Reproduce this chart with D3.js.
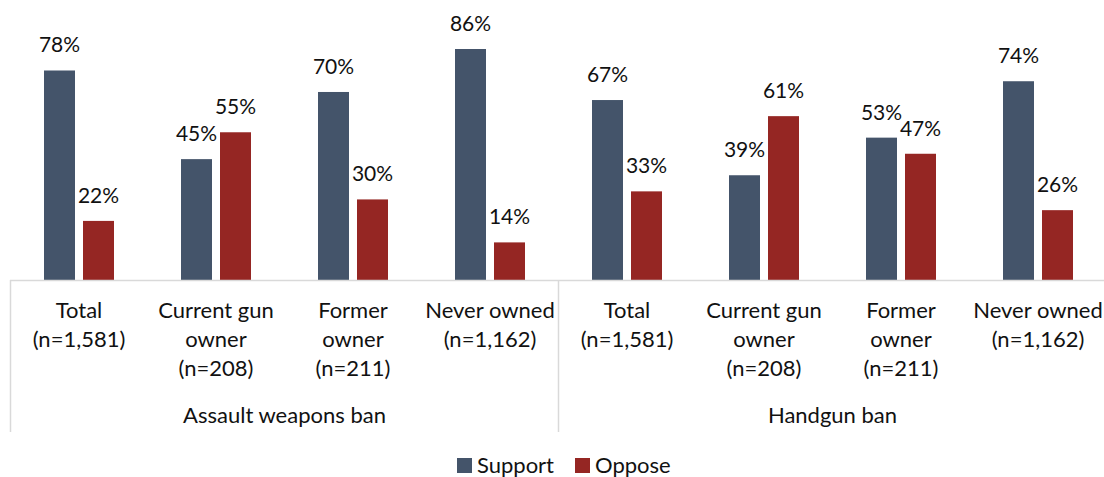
<!DOCTYPE html>
<html>
<head>
<meta charset="utf-8">
<script src="https://cdn.jsdelivr.net/npm/d3@7"></script>
<style>
  html, body { margin: 0; padding: 0; background: #fff; }
  svg { display: block; }
  text { font-family: Lato, "Open Sans", sans-serif; fill: #111; }
</style>
</head>
<body>
<svg id="chart" width="1104" height="477"></svg>
<script>
// ---- data ----
const groupsTop = ["Assault weapons ban", "Handgun ban"];
const categories = [
  ["Total", "(n=1,581)"],
  ["Current gun", "owner", "(n=208)"],
  ["Former", "owner", "(n=211)"],
  ["Never owned", "(n=1,162)"]
];
const seriesNames = ["Support", "Oppose"];
const supportValues = [78, 45, 70, 86, 67, 39, 53, 74];
const opposeValues  = [22, 55, 30, 14, 33, 61, 47, 26];
const colors = ["#44546A", "#952623"];

// ---- layout ----
const svg = d3.select("#chart");
const baseY = 280;
const fs = 22;
const rows = [];
groupsTop.forEach((g, gi) => categories.forEach((c, ci) => {
  const idx = gi * categories.length + ci;
  rows.push({ key: idx, group: g, lines: c, values: [supportValues[idx], opposeValues[idx]] });
}));

const x0 = d3.scaleBand().domain(rows.map(d => d.key)).range([10.5, 1106.5]).padding(0);
const x1 = d3.scaleBand().domain(seriesNames).range([0, x0.bandwidth()])
  .paddingInner(8 / 39).paddingOuter(0.859);
const y = d3.scaleLinear().domain([0, 100]).range([baseY, 11.4]);
const color = d3.scaleOrdinal().domain(seriesNames).range(colors);

// bars
const g = svg.append("g");
const grp = g.selectAll("g.grp").data(rows).enter().append("g")
  .attr("transform", d => `translate(${x0(d.key)},0)`);
grp.selectAll("rect").data(d => d.values.map((v, i) => ({ s: seriesNames[i], v })))
  .enter().append("rect")
  .attr("x", d => x1(d.s)).attr("width", x1.bandwidth())
  .attr("y", d => y(d.v)).attr("height", d => y(0) - y(d.v))
  .attr("fill", d => color(d.s));
grp.selectAll("text.val").data(d => d.values.map((v, i) => ({ s: seriesNames[i], v })))
  .enter().append("text").attr("class", "val")
  .attr("x", d => x1(d.s) + x1.bandwidth() / 2)
  .attr("y", d => y(d.v) - 18)
  .attr("text-anchor", "middle").attr("font-size", 21)
  .text(d => d.v + "%");

// axis lines
const lineColor = "#d9d9d9";
svg.append("line").attr("x1", 10).attr("x2", 1104).attr("y1", baseY + 0.5).attr("y2", baseY + 0.5)
  .attr("stroke", lineColor).attr("stroke-width", 1.5);
[0, 4].forEach(i => {
  const xx = x0(i);
  svg.append("line").attr("x1", xx).attr("x2", xx).attr("y1", baseY).attr("y2", 432)
    .attr("stroke", lineColor).attr("stroke-width", 1.5);
});

// category labels
grp.each(function(d) {
  const t = d3.select(this).append("text")
    .attr("text-anchor", "middle").attr("font-size", fs);
  d.lines.forEach((ln, i) => {
    t.append("tspan").attr("x", x0.bandwidth() / 2).attr("y", 318 + i * 29).text(ln);
  });
});

// group labels
groupsTop.forEach((name, gi) => {
  const start = x0(gi * 4), end = x0(gi * 4 + 3) + x0.bandwidth();
  svg.append("text").attr("x", (start + end) / 2).attr("y", 423)
    .attr("text-anchor", "middle").attr("font-size", fs).text(name);
});

// legend
const legend = svg.append("g");
const legendItems = [{ name: "Support", x: 457 }, { name: "Oppose", x: 575 }];
legendItems.forEach(it => {
  legend.append("rect").attr("x", it.x).attr("y", 458).attr("width", 15).attr("height", 15)
    .attr("fill", color(it.name));
  legend.append("text").attr("x", it.x + 20).attr("y", 473).attr("font-size", fs).text(it.name);
});
</script>
</body>
</html>
